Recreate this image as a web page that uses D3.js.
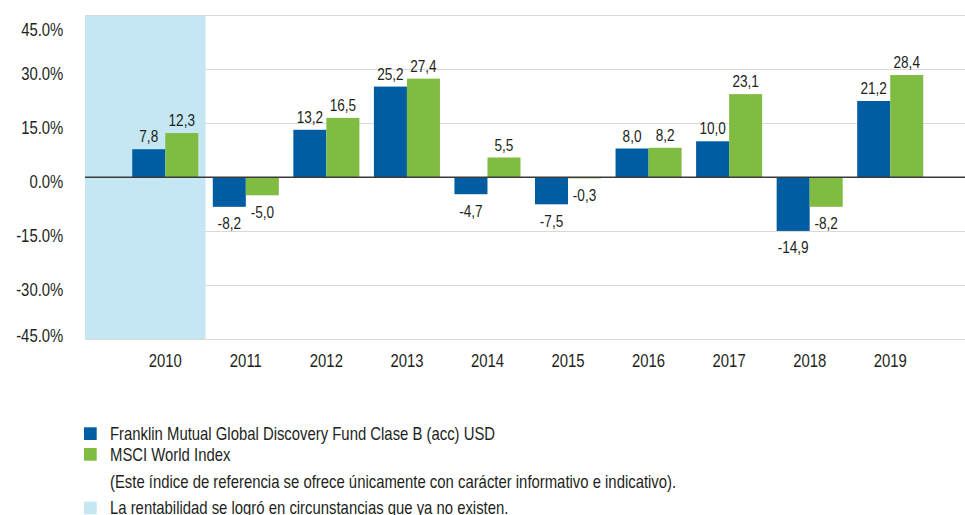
<!DOCTYPE html>
<html>
<head>
<meta charset="utf-8">
<script src="https://cdn.jsdelivr.net/npm/d3@7"></script>
<style>
  body { margin: 0; background: #fff; }
  svg { display: block; }
  text { font-family: "Liberation Sans", Arial, sans-serif; fill: #231f20; }
</style>
</head>
<body>
<svg id="chart" width="965" height="515"></svg>
<script>
// chart values
var years = ["2010", "2011", "2012", "2013", "2014", "2015", "2016", "2017", "2018", "2019"];
var fundValues = [7.8, -8.2, 13.2, 25.2, -4.7, -7.5, 8.0, 10.0, -14.9, 21.2];
var indexValues = [12.3, -5.0, 16.5, 27.4, 5.5, -0.3, 8.2, 23.1, -8.2, 28.4];
var yTicks = [45, 30, 15, 0, -15, -30, -45];
var seriesNames = ["Franklin Mutual Global Discovery Fund Clase B (acc) USD", "MSCI World Index"];
var noteText = "(Este índice de referencia se ofrece únicamente con carácter informativo e indicativo).";
var shadeText = "La rentabilidad se logró en circunstancias que ya no existen.";
var shadedYears = ["2010"];

var colors = ["#005da2", "#80bc41"];
var shadeColor = "#c5e7f3";

var svg = d3.select("#chart");
var plotLeft = 85, plotRight = 965;
var SX = 0.85;          // narrow look, no condensed face installed
var axisFont = 17.5, valueFont = 16;

var esLocale = d3.formatLocale({decimal: ",", thousands: ".", grouping: [3], currency: ["", ""], minus: "-"});
var pctLocale = d3.formatLocale({decimal: ".", thousands: ",", grouping: [3], currency: ["", ""], minus: "-"});
var fmtVal = esLocale.format(".1f");
var fmtPct = pctLocale.format(".1f");

// squeeze text horizontally around its anchor
function squeeze(x, y) {
    return "translate(" + x + "," + y + ") scale(" + SX + ",1)";
}

var y = d3.scaleLinear().domain([-45, 45]).range([339.3, 15.3]);

var x0 = d3.scaleBand().domain(years).range([125, 930.5]).paddingInner(0.18).paddingOuter(0.09);
var x1 = d3.scaleBand().domain([0, 1]).range([0, x0.bandwidth()]);
var step = x0.step();

var rows = years.map(function (yr, i) { return {year: yr, vals: [fundValues[i], indexValues[i]]}; });

// gridlines
svg.append("g").selectAll("line")
    .data(yTicks.filter(function (d) { return d !== 0; }))
    .enter().append("line")
    .attr("x1", plotLeft).attr("x2", plotRight)
    .attr("y1", function (d) { return Math.round(y(d)) + 0.5; })
    .attr("y2", function (d) { return Math.round(y(d)) + 0.5; })
    .attr("stroke", "#d9d9d9").attr("stroke-width", 1.2);

// shaded period
shadedYears.forEach(function (yr) {
    var gap = (step - x0.bandwidth()) / 2;
    var xr = x0(yr) + x0.bandwidth() + gap;
    var xl = (yr === years[0]) ? plotLeft : x0(yr) - gap;
    svg.append("rect")
        .attr("x", xl).attr("width", xr - xl)
        .attr("y", Math.round(y(45)) + 1).attr("height", Math.round(y(-45)) - Math.round(y(45)) - 1)
        .attr("fill", shadeColor);
});

// bars
var groups = svg.append("g").selectAll("g")
    .data(rows).enter().append("g")
    .attr("transform", function (d) { return "translate(" + x0(d.year) + ",0)"; });

groups.selectAll("rect")
    .data(function (d) { return d.vals; })
    .enter().append("rect")
    .attr("x", function (d, i) { return x1(i); })
    .attr("width", x1.bandwidth())
    .attr("y", function (d) { return y(Math.max(0, d)); })
    .attr("height", function (d) { return Math.abs(y(d) - y(0)); })
    .attr("fill", function (d, i) { return colors[i]; });

groups.selectAll("text")
    .data(function (d) { return d.vals; })
    .enter().append("text")
    .attr("transform", function (d, i) {
        return squeeze(x1(i) + x1.bandwidth() / 2, d >= 0 ? y(d) - 7 : y(d) + 22.5);
    })
    .attr("text-anchor", "middle")
    .attr("font-size", valueFont)
    .text(function (d) { return fmtVal(d); });

// zero line
svg.append("line")
    .attr("x1", plotLeft).attr("x2", plotRight)
    .attr("y1", y(0)).attr("y2", y(0))
    .attr("stroke", "#3a3a3a").attr("stroke-width", 1.4);

// y axis labels
var yAxis = svg.append("g")
    .attr("transform", "translate(" + plotLeft + ",0)")
    .call(d3.axisLeft(y).tickValues(yTicks).tickSize(0).tickFormat(function (d) { return fmtPct(d) + "%"; }));
yAxis.select(".domain").remove();
yAxis.attr("font-family", null).attr("font-size", null);
yAxis.selectAll("text")
    .attr("font-size", axisFont)
    .attr("fill", "#231f20")
    .attr("x", null).attr("dy", null)
    .attr("transform", function (d) {
        var base = Math.min(341, Math.max(35.7, y(d) + 10));
        return squeeze(-21.7, base - y(d));
    });

// x axis labels
var xAxis = svg.append("g")
    .attr("transform", "translate(0,339)")
    .call(d3.axisBottom(x0).tickSize(0));
xAxis.select(".domain").remove();
xAxis.attr("font-family", null).attr("font-size", null);
xAxis.selectAll("text")
    .attr("font-size", axisFont)
    .attr("fill", "#231f20")
    .attr("y", null).attr("dy", null)
    .attr("transform", squeeze(0, 28.3));

// legend
var legend = svg.append("g");
var legendRows = [
    {label: seriesNames[0], color: colors[0], base: 440},
    {label: seriesNames[1], color: colors[1], base: 460.7},
    {label: noteText, color: null, base: 488.3},
    {label: shadeText, color: shadeColor, base: 514.3}
];
legendRows.forEach(function (r) {
    if (r.color) {
        legend.append("rect")
            .attr("x", 84).attr("y", r.base - 12.7)
            .attr("width", 12.7).attr("height", 12.7)
            .attr("fill", r.color);
    }
    legend.append("text")
        .attr("transform", squeeze(110, r.base))
        .attr("font-size", axisFont)
        .text(r.label);
});
</script>
</body>
</html>
